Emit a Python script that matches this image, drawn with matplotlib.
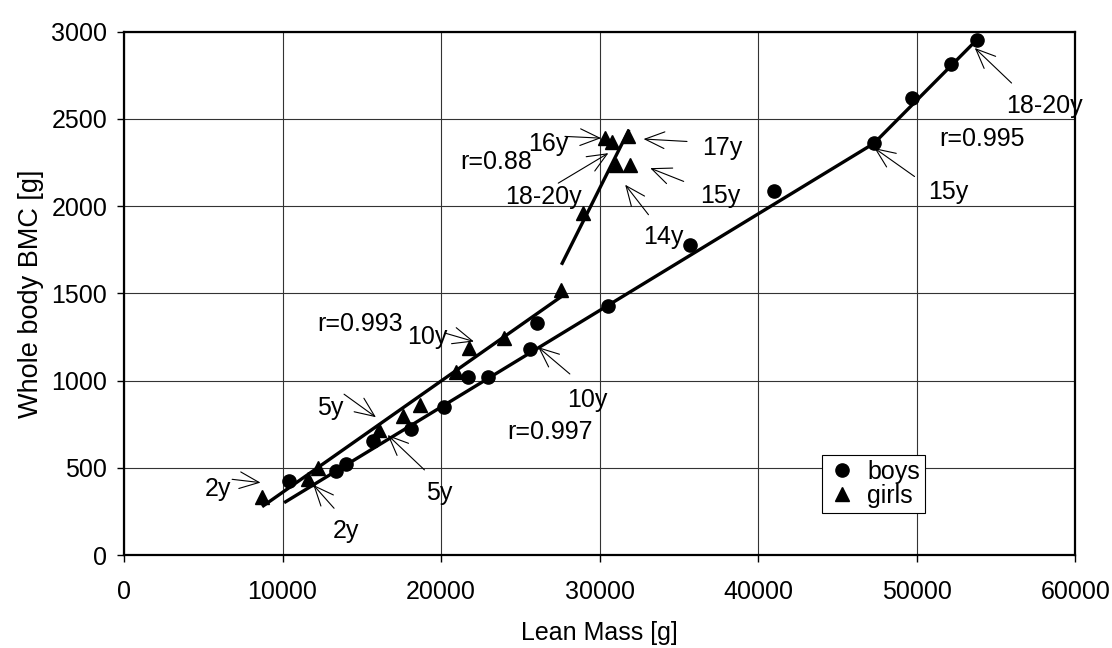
import matplotlib
matplotlib.use("Agg")
import matplotlib.pyplot as plt

plt.rcParams['font.family'] = ['Liberation Sans', 'DejaVu Sans']

# boys: lean mass [g], whole body BMC [g]
boys_lm = [10400, 13400, 14000, 15700, 18100, 20200, 21700, 22950, 25600, 26070,
           30500, 35700, 41000, 47300, 49700, 52150, 53800]
boys_bmc = [425, 484, 522, 655, 720, 851, 1020, 1018, 1181, 1330,
            1430, 1778, 2088, 2360, 2618, 2815, 2952]

# girls
girls_lm = [8710, 11600, 12250, 16100, 17600, 18650, 20950, 21790, 23950, 27590,
            28970, 30340, 30800, 31810, 31000, 31920]
girls_bmc = [333, 434, 500, 715, 795, 862, 1052, 1186, 1243, 1520,
             1960, 2390, 2368, 2400, 2235, 2235]

# fitted lines
boys_fit_x = [10100, 47300, 53800]
boys_fit_y = [300, 2360, 2955]
girls_fit1_x = [8710, 27590]
girls_fit1_y = [277, 1482]
girls_fit2_x = [27590, 31850]
girls_fit2_y = [1664, 2438]

# annotations: label, text position, arrow tail, arrow head (data units)
labels = [
    ("2y", (5910, 377), (6820, 434), (8610, 415)),
    ("2y", (14030, 140), (13250, 268), (11940, 402)),
    ("5y", (19900, 358), (18950, 488), (16630, 688)),
    ("5y", (12980, 842), (13880, 922), (15890, 790)),
    ("10y", (19160, 1249), (20260, 1272), (22070, 1224)),
    ("10y", (29220, 889), (28120, 1038), (26120, 1192)),
    ("16y", (26750, 2358), (27810, 2400), (30090, 2390)),
    ("18-20y", (26480, 2052), (27390, 2132), (30550, 2304)),
    ("17y", (37730, 2333), (35510, 2371), (32770, 2385)),
    ("15y", (37620, 2061), (35300, 2142), (33190, 2218)),
    ("14y", (34030, 1826), (33080, 1951), (31610, 2123)),
    ("15y", (52010, 2081), (49860, 2170), (47330, 2333)),
    ("18-20y", (58030, 2572), (55980, 2706), (53660, 2907)),
]
r_labels = [
    ("r=0.993", (14880, 1325)),
    ("r=0.997", (26840, 704)),
    ("r=0.88", (23500, 2253)),
    ("r=0.995", (54120, 2387)),
]

fig = plt.figure(figsize=(11.12, 6.48), dpi=100)
ax = fig.add_axes([0.1115, 0.1435, 0.8555, 0.8075])

ax.set_xlim(0, 60000)
ax.set_ylim(0, 3000)
ax.set_xticks(range(0, 60001, 10000))
ax.set_yticks(range(0, 3001, 500))
ax.grid(True, color='0.2', lw=0.8)
ax.set_axisbelow(True)
for s in ax.spines.values():
    s.set_linewidth(1.6)
    s.set_color('black')
ax.tick_params(labelsize=18, length=5, width=1, pad=7)
ax.tick_params(axis='x', pad=13)

ax.plot(boys_fit_x, boys_fit_y, color='black', lw=2.4, solid_capstyle='butt')
ax.plot(girls_fit1_x, girls_fit1_y, color='black', lw=2.4, solid_capstyle='butt')
ax.plot(girls_fit2_x, girls_fit2_y, color='black', lw=2.4, solid_capstyle='butt')

ax.plot(boys_lm, boys_bmc, 'o', color='black', ms=9.5, label='boys')
ax.plot(girls_lm, girls_bmc, '^', color='black', ms=10, label='girls')

for txt, pos, tail, head in labels:
    ax.text(pos[0], pos[1], txt, fontsize=18, ha='center', va='center')
    ax.annotate('', xy=head, xytext=tail,
                arrowprops=dict(arrowstyle='->,head_length=0.7,head_width=0.3',
                                lw=0.8, color='black', mutation_scale=20,
                                shrinkA=0, shrinkB=0))
for txt, pos in r_labels:
    ax.text(pos[0], pos[1], txt, fontsize=18, ha='center', va='center')

leg = ax.legend(loc='upper left', bbox_to_anchor=(0.734, 0.191), fontsize=18,
                frameon=True, fancybox=False, edgecolor='black', framealpha=1,
                borderpad=0.2, labelspacing=0.0, handletextpad=0.4,
                handlelength=1.2, borderaxespad=0)
leg.get_frame().set_linewidth(0.8)

ax.set_xlabel('Lean Mass [g]', fontsize=18, labelpad=12)
ax.set_ylabel('Whole body BMC [g]', fontsize=19.5, labelpad=5)

fig.savefig('out.png', dpi=100)
